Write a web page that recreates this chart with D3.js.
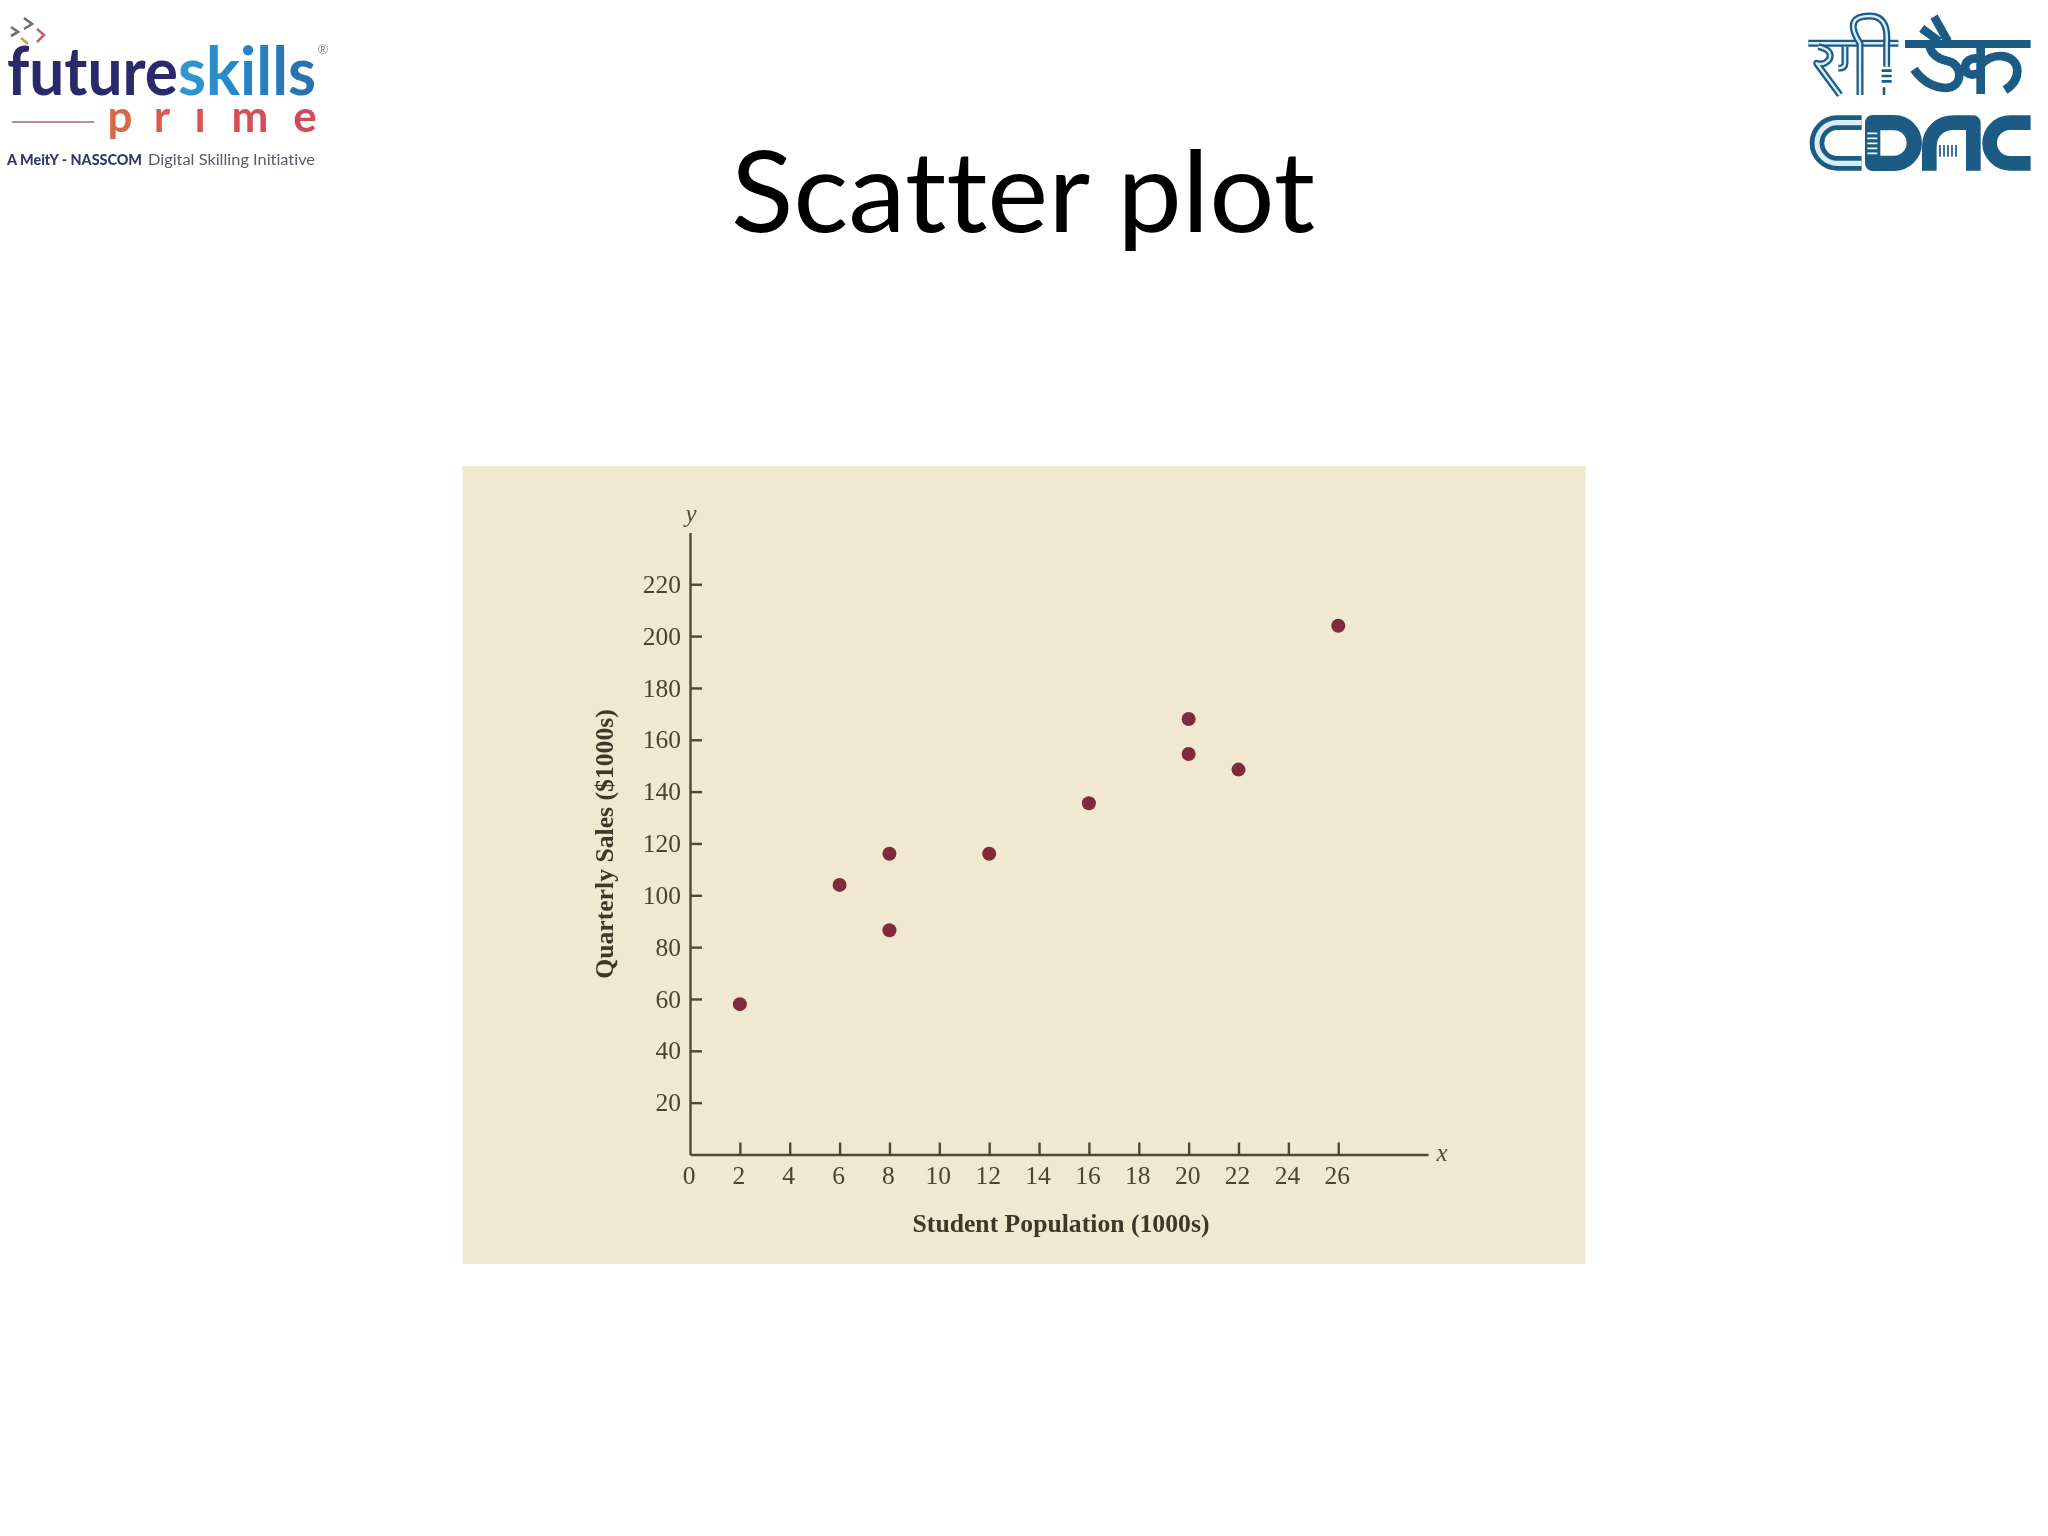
<!DOCTYPE html>
<html><head><meta charset="utf-8">
<script src="https://cdn.jsdelivr.net/npm/d3@7/dist/d3.min.js"></script>
<style>html,body{margin:0;background:#fff}svg{display:block}text{font-variant-ligatures:none;font-feature-settings:"liga" 0,"clig" 0}</style>
</head><body><svg id="c" width="2048" height="1536"></svg>
<script>
const studentPopulation = [2, 6, 8, 8, 12, 16, 20, 20, 22, 26];
const quarterlySales = [58, 104, 116, 86.5, 116, 135.5, 168, 154.5, 148.5, 204];
const xTicks = [0, 2, 4, 6, 8, 10, 12, 14, 16, 18, 20, 22, 24, 26];
const yTicks = [20, 40, 60, 80, 100, 120, 140, 160, 180, 200, 220];
const titleText = "Scatter plot";
const xTitle = "Student Population (1000s)";
const yTitle = "Quarterly Sales ($1000s)";

const svg = d3.select("#c");
const defs = svg.append("defs");
const blur=(id,s)=>defs.append("filter").attr("id",id).attr("x","-5%").attr("y","-5%").attr("width","110%").attr("height","110%").append("feGaussianBlur").attr("stdDeviation",s);
blur("soft",0.6); blur("soft2",1.0); blur("softT",0.5); blur("softL",0.75);
const sg = defs.append("linearGradient").attr("id","skillsG");
sg.append("stop").attr("offset","0").attr("stop-color","#2f9ad0");
sg.append("stop").attr("offset","0.5").attr("stop-color","#2384c4");
sg.append("stop").attr("offset","1").attr("stop-color","#2a6fae");

// slide title
svg.append("text").attr("x",1023).attr("y",232).attr("text-anchor","middle").attr("filter","url(#softT)")
  .attr("font-family","Lato").attr("font-size",112).attr("fill","#000")
  .attr("textLength",584).attr("lengthAdjust","spacingAndGlyphs").text(titleText);

// panel
svg.append("rect").attr("x",462.5).attr("y",466).attr("width",1123).attr("height",798).attr("fill","#f0e9cf");

// scales
const x = d3.scaleLinear().domain([0,29.6]).range([690,1428]);
const y = d3.scaleLinear().domain([0,240]).range([1154.5,532.4]);
const ink = "#4f4634";
const chart = svg.append("g").attr("filter","url(#soft)");

const gx = chart.append("g").attr("transform",`translate(0,${y(0)})`)
  .call(d3.axisBottom(x).tickValues(xTicks).tickSizeInner(-12).tickSizeOuter(0).tickPadding(11).tickFormat(d3.format("d")));
const gy = chart.append("g").attr("transform",`translate(${x(0)},0)`)
  .call(d3.axisLeft(y).tickValues(yTicks).tickSizeInner(-12).tickSizeOuter(0).tickPadding(9).tickFormat(d3.format("d")));
[gx,gy].forEach(g=>{
  g.attr("font-family","'Liberation Serif'").attr("font-size",25.5);
  g.select(".domain").attr("stroke",ink).attr("stroke-width",2.4);
  g.selectAll(".tick line").attr("stroke",ink).attr("stroke-width",2.4);
  g.selectAll(".tick text").attr("fill","#4c4332");
});
gx.selectAll(".tick text").attr("dx",-1.5);
gx.selectAll(".tick").filter(d=>d===0).select("line").remove();

chart.append("text").attr("x",691).attr("y",522).attr("text-anchor","middle")
  .attr("font-family","'Liberation Serif'").attr("font-style","italic").attr("font-size",25).attr("fill","#544b3a").text("y");
chart.append("text").attr("x",1442).attr("y",1161).attr("text-anchor","middle")
  .attr("font-family","'Liberation Serif'").attr("font-style","italic").attr("font-size",25).attr("fill","#544b3a").text("x");

chart.append("text").attr("x",1061).attr("y",1232).attr("text-anchor","middle")
  .attr("font-family","'Liberation Serif'").attr("font-weight","bold").attr("font-size",25.7).attr("fill","#3f3728").text(xTitle);
chart.append("text").attr("transform","translate(613,844) rotate(-90)").attr("text-anchor","middle")
  .attr("font-family","'Liberation Serif'").attr("font-weight","bold").attr("font-size",25.7).attr("fill","#3f3728").text(yTitle);

chart.selectAll("circle.pt").data(studentPopulation).join("circle").attr("class","pt")
  .attr("cx",d=>x(d)).attr("cy",(d,i)=>y(quarterlySales[i])).attr("r",7).attr("fill","#80293a");

// futureskills logo
const lg = svg.append("g").attr("filter","url(#softL)").attr("font-family","Lato");
lg.append("text").attr("x",7).attr("y",95).attr("font-size",67).attr("font-weight",700).attr("fill","#2a2b6b")
  .attr("textLength",171).attr("lengthAdjust","spacingAndGlyphs").text("future");
lg.append("text").attr("x",178).attr("y",95).attr("font-size",67).attr("font-weight",700).attr("fill","url(#skillsG)")
  .attr("textLength",138).attr("lengthAdjust","spacingAndGlyphs").text("skills");
lg.append("text").attr("x",323).attr("y",54).attr("font-size",13).attr("fill","#7d8a99").attr("text-anchor","middle").text("®");
[["p",120,"#d8684a"],["r",162,"#d85c50"],["ı",200,"#d65256"],["m",250,"#d44e58"],["e",305,"#d2485c"]].forEach(([t,px,c])=>{
  lg.append("text").attr("x",px).attr("y",132).attr("text-anchor","middle").attr("font-size",44).attr("font-weight",700)
    .attr("fill",c).text(t);
});
lg.append("line").attr("x1",12).attr("x2",94).attr("y1",122).attr("y2",122).attr("stroke","#b98f8f").attr("stroke-width",2);
lg.append("text").attr("x",7).attr("y",165).attr("font-size",14.5).attr("font-weight",900).attr("fill","#33386a")
  .attr("textLength",135).attr("lengthAdjust","spacingAndGlyphs").text("A MeitY - NASSCOM");
lg.append("text").attr("x",148).attr("y",165).attr("font-size",14.5).attr("font-weight",400).attr("fill","#555c6c")
  .attr("textLength",167).attr("lengthAdjust","spacingAndGlyphs").text("Digital Skilling Initiative");
[["M11,27 L18,32 L11,36","#6a6f7c"],["M24,18 L32,24 L24,29","#6a6f7c"],["M37,29 L44,35 L37,42","#c9606a"],["M21,38 L28,44","#c8a23c"]]
 .forEach(([d,c])=>lg.append("path").attr("d",d).attr("fill","none").attr("stroke",c).attr("stroke-width",2.6));

// C-DAC logo
const teal="#1a5c84", pale="#d8edf4";
const cd = svg.append("g").attr("transform","translate(1790,0) scale(0.3333)").attr("filter","url(#soft2)")
  .attr("fill","none").attr("stroke",teal).attr("stroke-linejoin","round");
const outlined=(d,w)=>{cd.append("path").attr("d",d).attr("stroke-width",w);cd.append("path").attr("d",d).attr("stroke",pale).attr("stroke-width",w*0.35);};
outlined("M55,130 H325",21);
outlined("M85,140 Q130,150 118,178 Q102,198 80,190 L150,285",21);
outlined("M165,140 V190 Q165,205 145,205",21);
outlined("M210,285 V130 C172,70 190,48 240,48 C292,48 292,100 290,130 V200",21);
cd.append("path").attr("d","M275,212 H305 M275,228 H305 M275,244 H305 M282,262 V285").attr("stroke-width",8);
cd.append("path").attr("d","M345,132 H722").attr("stroke-width",24);
cd.append("path").attr("d","M432,50 L474,124 M395,85 L448,124").attr("stroke-width",25);
cd.append("path").attr("d","M372,208 Q410,262 468,264 C522,262 520,190 470,182 Q425,172 418,135").attr("stroke-width",26);
cd.append("path").attr("d","M572,132 V282 M572,178 C510,158 510,250 572,216 M572,196 C610,150 682,165 682,212 C682,240 665,258 645,270").attr("stroke-width",26);
// C
outlined("M215,368 H142 A60,60 0 0 0 142,490 H215",44);
// D
cd.append("path").attr("d","M248,368 H312 A60,60 0 0 1 312,490 H248 Z").attr("stroke-width",46);
cd.append("path").attr("d","M232,400 H262 M232,415 H262 M232,430 H262 M232,445 H262 M232,460 H262").attr("stroke","#fff").attr("stroke-width",5);
cd.append("path").attr("d","M305,395 V465").attr("stroke","#fff").attr("stroke-width",30);
// A
cd.append("path").attr("d","M418,512 V440 C418,395 450,368 492,368 H550 V512").attr("stroke-width",44);
cd.append("path").attr("d","M450,435 V470 M462,435 V470 M474,435 V470 M486,435 V470 M498,435 V470").attr("stroke-width",5);
// C
cd.append("path").attr("d","M722,368 H660 A60,60 0 0 0 660,490 H722").attr("stroke-width",44);
</script></body></html>
